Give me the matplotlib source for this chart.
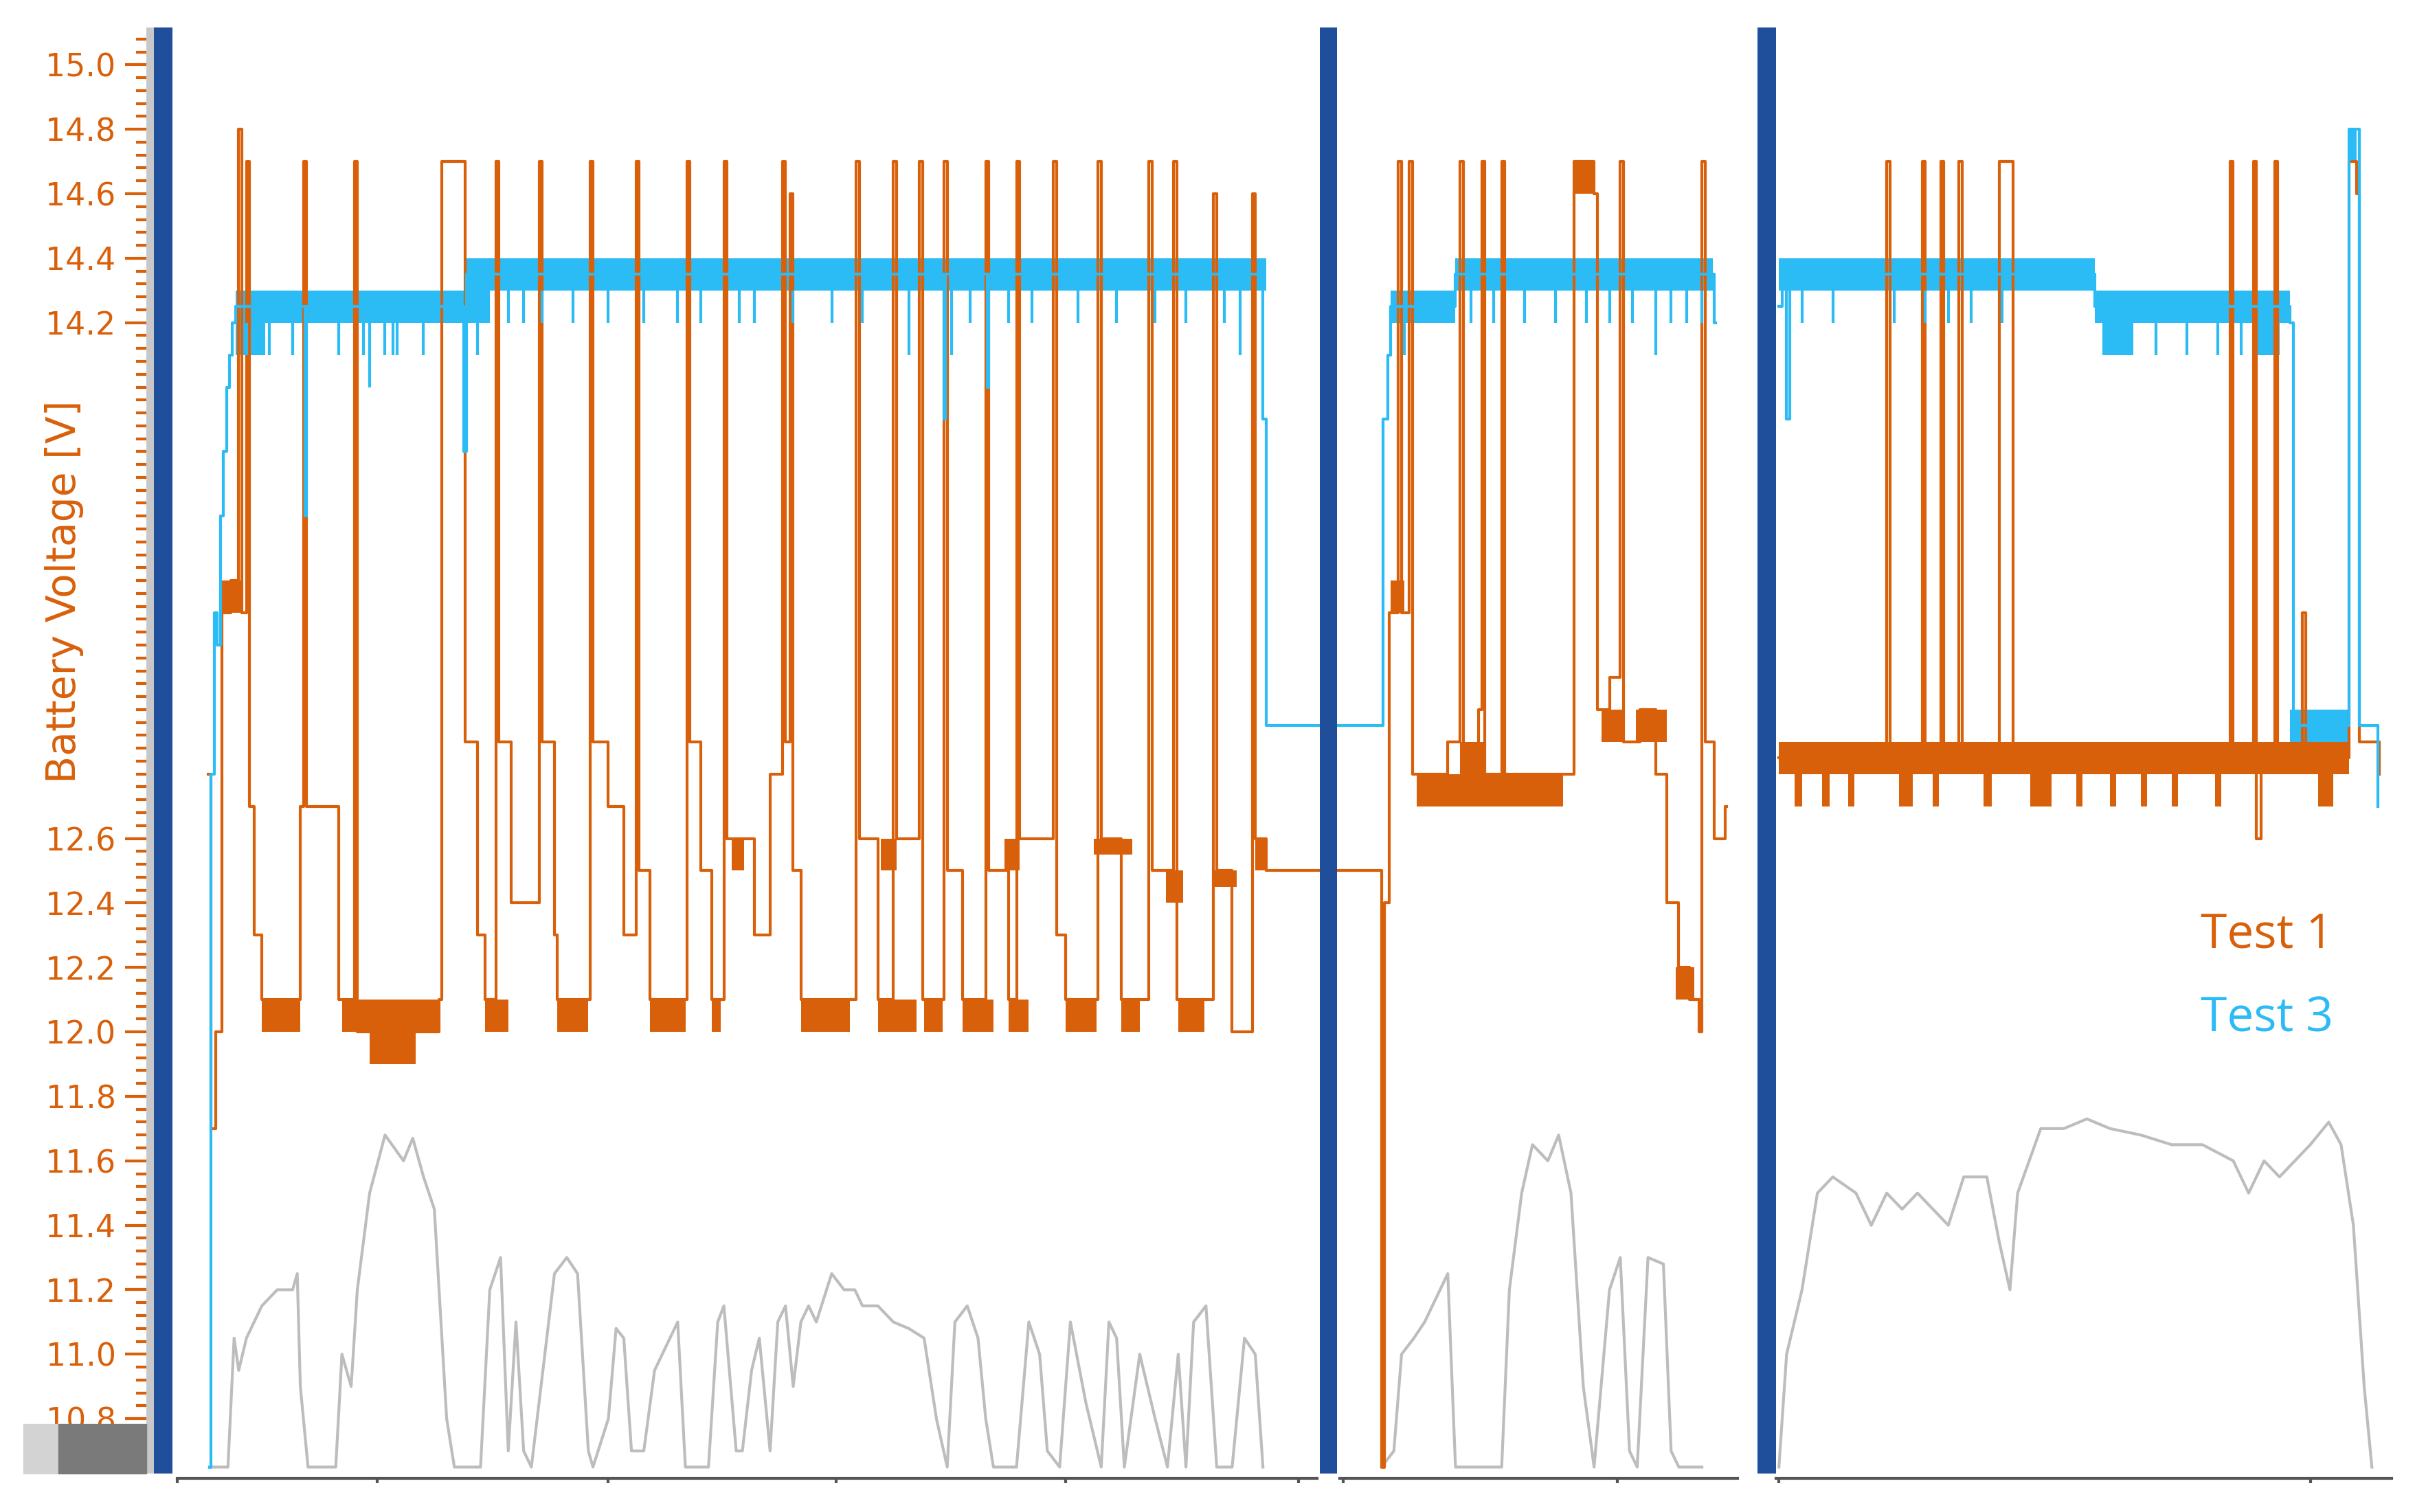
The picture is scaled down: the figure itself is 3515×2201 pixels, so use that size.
import numpy as np
import matplotlib.pyplot as plt

ORANGE = '#d9600a'
CYAN = '#2bbbf5'
GREY = '#bdbdbd'
NAVY = '#1f4e9a'

# x is a time axis in arbitrary units, y is battery voltage [V]
orange_x = [135, 137, 140, 144, 150, 155, 157, 160, 162, 165, 170, 195, 197, 199, 205, 220, 230, 232, 285, 287, 300, 302, 310, 315, 322, 324, 332, 350, 352, 360, 362, 383, 385, 395, 405, 413, 415, 422, 446, 448, 455, 462, 470, 472, 480, 490, 500, 508, 510, 513, 515, 520, 556, 558, 570, 580, 582, 597, 599, 613, 615, 625, 640, 642, 655, 660, 662, 684, 686, 692, 713, 715, 728, 746, 748, 757, 762, 764, 788, 790, 800, 813, 815, 822,
            895, 897, 899, 902, 908, 910, 915, 917, 925, 940, 948, 950, 960, 962, 964, 975, 977, 1015, 1022, 1035, 1037, 1045, 1052, 1054, 1065, 1075, 1082, 1090, 1097, 1103, 1105, 1107, 1113, 1120, 1121,
            1155, 1225, 1227, 1248, 1250, 1260, 1262, 1272, 1274, 1298, 1305, 1307, 1448, 1450, 1463, 1465, 1468, 1477, 1479, 1495, 1497, 1525, 1530, 1532, 1545]
orange_y = [12.8, 11.7, 12.0, 13.3, 13.4, 14.8, 13.3, 14.7, 12.7, 12.3, 12.1, 12.7, 14.7, 12.7, 12.7, 12.1, 14.7, 12.0, 12.1, 14.7, 14.7, 12.9, 12.3, 12.1, 14.7, 12.9, 12.4, 14.7, 12.9, 12.3, 12.1, 14.7, 12.9, 12.7, 12.3, 14.7, 12.5, 12.1, 14.7, 12.9, 12.5, 12.1, 14.7, 12.6, 12.6, 12.3, 12.8, 14.7, 12.9, 14.6, 12.5, 12.1, 14.7, 12.6, 12.1, 14.7, 12.6, 14.7, 12.1, 14.7, 12.5, 12.1, 14.7, 12.5, 12.1, 14.7, 12.6, 14.7, 12.3, 12.1, 14.7, 12.6, 12.1, 14.7, 12.5, 12.5, 14.7, 12.1, 14.6, 12.5, 12.0, 14.6, 12.6, 12.5,
            12.5, 10.65, 12.4, 13.3, 14.7, 13.3, 14.7, 12.8, 12.8, 12.9, 14.7, 12.8, 13.0, 14.7, 12.8, 14.7, 12.8, 12.8, 14.7, 14.6, 13.0, 13.1, 14.7, 12.9, 13.0, 12.8, 12.4, 12.2, 12.1, 12.0, 14.7, 12.9, 12.6, 12.7, np.nan,
            12.85, 14.7, 12.85, 14.7, 12.85, 14.7, 12.85, 14.7, 12.85, 14.7, 14.7, 12.85, 14.7, 12.85, 14.7, 12.6, 12.85, 14.7, 12.85, 13.3, 12.85, 14.7, 14.6, 12.9, 12.8]

# dense (rapidly toggling) regions: x0, x1, low, high
orange_bands = [(144, 158, 13.3, 13.4), (170, 195, 12.0, 12.1), (222, 285, 12.0, 12.1), (240, 270, 11.9, 12.0),
                (315, 330, 12.0, 12.1), (362, 382, 12.0, 12.1), (422, 445, 12.0, 12.1), (462, 468, 12.0, 12.1),
                (475, 483, 12.5, 12.6), (520, 552, 12.0, 12.1), (570, 595, 12.0, 12.1), (572, 582, 12.5, 12.6),
                (600, 612, 12.0, 12.1), (625, 645, 12.0, 12.1), (652, 662, 12.5, 12.6), (655, 668, 12.0, 12.1),
                (692, 712, 12.0, 12.1), (710, 735, 12.55, 12.6), (728, 740, 12.0, 12.1), (757, 768, 12.4, 12.5),
                (765, 782, 12.0, 12.1), (788, 803, 12.45, 12.5), (815, 822, 12.5, 12.6),
                (903, 912, 13.3, 13.4), (920, 1015, 12.7, 12.8), (948, 965, 12.8, 12.9), (1022, 1035, 14.6, 14.7),
                (1040, 1055, 12.9, 13.0), (1062, 1082, 12.9, 13.0), (1088, 1100, 12.1, 12.2),
                (1155, 1525, 12.8, 12.9), (1165, 1170, 12.7, 12.8), (1183, 1188, 12.7, 12.8), (1200, 1204, 12.7, 12.8),
                (1233, 1242, 12.7, 12.8), (1255, 1259, 12.7, 12.8), (1288, 1293, 12.7, 12.8), (1318, 1332, 12.7, 12.8),
                (1348, 1352, 12.7, 12.8), (1370, 1374, 12.7, 12.8), (1390, 1394, 12.7, 12.8), (1410, 1414, 12.7, 12.8),
                (1438, 1442, 12.7, 12.8), (1505, 1515, 12.7, 12.8)]

cyan_x = [136, 137, 139, 141, 143, 145, 147, 149, 151, 153, 197, 198, 199, 300, 301, 303, 612, 613, 614, 640, 641, 642, 818, 820, 822,
          897, 898, 901, 903, 945, 1112, 1113, 1114,
          1155, 1157, 1160, 1162, 1360, 1487, 1489, 1525, 1530, 1532, 1542, 1544]
cyan_y = [10.65, 12.8, 13.3, 13.2, 13.6, 13.8, 14.0, 14.1, 14.2, 14.25, 14.25, 13.6, 14.25, 14.25, 13.8, 14.35, 14.35, 13.9, 14.35, 14.35, 14.0, 14.35, 14.35, 13.9, 12.95,
          12.95, 13.9, 14.1, 14.25, 14.35, 14.35, 14.2, np.nan,
          14.25, 14.35, 13.9, 14.35, 14.25, 14.2, 12.95, 14.8, 14.8, 12.95, 12.95, 12.7]
cyan_bands = [(153, 302, 14.2, 14.3), (302, 822, 14.3, 14.4), (903, 945, 14.2, 14.3), (945, 1112, 14.3, 14.4),
              (1155, 1360, 14.3, 14.4), (1360, 1487, 14.2, 14.3), (1487, 1525, 12.9, 13.0), (1525, 1530, 14.7, 14.8),
              (153, 172, 14.1, 14.2), (302, 318, 14.2, 14.3), (1365, 1385, 14.1, 14.2), (1465, 1480, 14.1, 14.2)]
cyan_dips_x = [160, 175, 190, 220, 236, 240, 250, 255, 258, 275, 290, 310, 315, 330, 340, 352, 372, 395, 418, 440, 455, 480, 490,
               515, 540, 560, 590, 618, 630, 655, 670, 700, 725, 750, 770, 795, 805, 912, 925, 955, 970, 990, 1010, 1030, 1045,
               1060, 1075, 1085, 1095, 1105, 1170, 1190, 1230, 1250, 1265, 1280, 1300, 1320, 1335, 1400, 1420, 1440, 1455]
cyan_dips_top = [14.2] * 8 + [14.3] * 39 + [14.3] * 10 + [14.2] * 6
cyan_dips_bot = [14.1, 14.1, 14.1, 14.1, 14.1, 14.0, 14.1, 14.1, 14.1, 14.1, 14.2, 14.1, 14.2, 14.2, 14.2, 14.2, 14.2, 14.2, 14.2,
                 14.2, 14.2, 14.2, 14.2, 14.2, 14.2, 14.2, 14.1, 14.1, 14.2, 14.2, 14.2, 14.2, 14.2, 14.2, 14.2, 14.2, 14.1, 14.1,
                 14.2, 14.2, 14.2, 14.2, 14.2, 14.2, 14.2, 14.2, 14.1, 14.2, 14.2, 14.2, 14.2, 14.2, 14.2, 14.2, 14.2, 14.2,
                 14.2, 14.2, 14.2, 14.1, 14.1, 14.1, 14.1]

grey_x = [136, 148, 152, 155, 160, 165, 170, 180, 190, 193, 195, 200, 218, 222, 228, 232, 240, 250, 262, 268, 275, 282, 290, 295,
          312, 318, 325, 330, 335, 340, 345, 360, 368, 375, 382, 385, 395, 400, 405, 410, 418, 425, 435, 440, 445, 460, 466, 470,
          478, 482, 488, 493, 500, 505, 510, 515, 520, 525, 530, 540, 548, 555, 560, 570, 580, 590, 600, 608, 615, 620, 628, 635,
          640, 645, 660, 668, 675, 680, 688, 695, 705, 715, 720, 725, 730, 740, 750, 758, 765, 770, 775, 783, 790, 800, 808, 815, 820, 821,
          897, 905, 910, 918, 925, 935, 940, 945, 975, 980, 988, 995, 1005, 1012, 1020, 1028, 1035, 1045, 1052, 1058, 1063, 1070,
          1080, 1085, 1090, 1105, 1106,
          1155, 1160, 1170, 1180, 1190, 1205, 1215, 1225, 1235, 1245, 1255, 1265, 1275, 1290, 1298, 1305, 1310, 1325, 1340, 1355,
          1370, 1390, 1410, 1430, 1450, 1460, 1470, 1480, 1490, 1500, 1512, 1520, 1528, 1535, 1540]
grey_y = [10.65, 10.65, 11.05, 10.95, 11.05, 11.1, 11.15, 11.2, 11.2, 11.25, 10.9, 10.65, 10.65, 11.0, 10.9, 11.2, 11.5, 11.68, 11.6,
          11.67, 11.55, 11.45, 10.8, 10.65, 10.65, 11.2, 11.3, 10.7, 11.1, 10.7, 10.65, 11.25, 11.3, 11.25, 10.7, 10.65, 10.8, 11.08,
          11.05, 10.7, 10.7, 10.95, 11.05, 11.1, 10.65, 10.65, 11.1, 11.15, 10.7, 10.7, 10.95, 11.05, 10.7, 11.1, 11.15, 10.9, 11.1,
          11.15, 11.1, 11.25, 11.2, 11.2, 11.15, 11.15, 11.1, 11.08, 11.05, 10.8, 10.65, 11.1, 11.15, 11.05, 10.8, 10.65, 10.65, 11.1,
          11.0, 10.7, 10.65, 11.1, 10.85, 10.65, 11.1, 11.05, 10.65, 11.0, 10.8, 10.65, 11.0, 10.65, 11.1, 11.15, 10.65, 10.65, 11.05,
          11.0, 10.65, np.nan,
          10.65, 10.7, 11.0, 11.05, 11.1, 11.2, 11.25, 10.65, 10.65, 11.2, 11.5, 11.65, 11.6, 11.68, 11.5, 10.9, 10.65, 11.2, 11.3,
          10.7, 10.65, 11.3, 11.28, 10.7, 10.65, 10.65, np.nan,
          10.65, 11.0, 11.2, 11.5, 11.55, 11.5, 11.4, 11.5, 11.45, 11.5, 11.45, 11.4, 11.55, 11.55, 11.35, 11.2, 11.5, 11.7, 11.7,
          11.73, 11.7, 11.68, 11.65, 11.65, 11.6, 11.5, 11.6, 11.55, 11.6, 11.65, 11.72, 11.65, 11.4, 10.9, 10.65]

yticks = [10.8, 11.0, 11.2, 11.4, 11.6, 11.8, 12.0, 12.2, 12.4, 12.6, 14.2, 14.4, 14.6, 14.8, 15.0]

fig = plt.figure(figsize=(35.15, 22.01), dpi=100)
ax = fig.add_axes([95 / 1568, 1 - 957 / 982, 1455 / 1568, 939 / 982])
ax.set_xlim(95, 1550)
ax.set_ylim(10.63, 15.115)

ax.plot(grey_x, grey_y, color=GREY, lw=3)
for x0, x1, lo, hi in orange_bands:
    ax.fill_between([x0, x1], lo, hi, color=ORANGE, lw=0)
ax.step(orange_x, orange_y, where='post', color=ORANGE, lw=3)
for x0, x1, lo, hi in cyan_bands:
    ax.fill_between([x0, x1], lo, hi, color=CYAN, lw=0)
ax.vlines(cyan_dips_x, cyan_dips_bot, cyan_dips_top, color=CYAN, lw=3)
ax.step(cyan_x, cyan_y, where='post', color=CYAN, lw=3)

# panel separators
ax.axvspan(95, 100, color='#c8c8c8', lw=0)
for x0, x1 in [(100, 112), (857, 868), (1141, 1153)]:
    ax.axvspan(x0, x1, color=NAVY, lw=0, zorder=5)

for s in ax.spines.values():
    s.set_visible(False)
ax.set_xticks([])
ax.set_yticks(yticks)
ax.set_yticklabels([f'{v:.1f}' for v in yticks])
ax.set_yticks(np.arange(10.64, 15.11, 0.04), minor=True)
ax.tick_params(axis='y', which='major', length=22, width=3, color=ORANGE, labelcolor=ORANGE, labelsize=33, pad=10)
ax.tick_params(axis='y', which='minor', length=11, width=3, color=ORANGE)
ax.set_ylabel('Battery Voltage [V]', color=ORANGE, fontsize=42, labelpad=-40, y=0.61)

# segmented time axis
for x0, x1, ticks in [(115, 855, [115, 245, 395, 543, 692, 843]), (870, 1128, [872, 1050]), (1153, 1553, [1155, 1500])]:
    ax.plot([x0, x1], [10.615, 10.615], color='#555555', lw=3, clip_on=False)
    ax.vlines(ticks, 10.600, 10.615, color='#555555', lw=3, clip_on=False)

ax.text(1472, 12.30, 'Test 1', color=ORANGE, fontsize=50, ha='center', va='center', family='Open Sans')
ax.text(1472, 12.04, 'Test 3', color=CYAN, fontsize=50, ha='center', va='center', family='Open Sans')

# grey box in the lower left corner
fig.patches.append(plt.Rectangle((15 / 1568, 1 - 957 / 982), 23 / 1568, 32 / 982, color='#d3d3d3', transform=fig.transFigure, zorder=0))
fig.patches.append(plt.Rectangle((38 / 1568, 1 - 957 / 982), 57 / 1568, 32 / 982, color='#7a7a7a', transform=fig.transFigure, zorder=0))

fig.savefig('out.png', dpi=100)
